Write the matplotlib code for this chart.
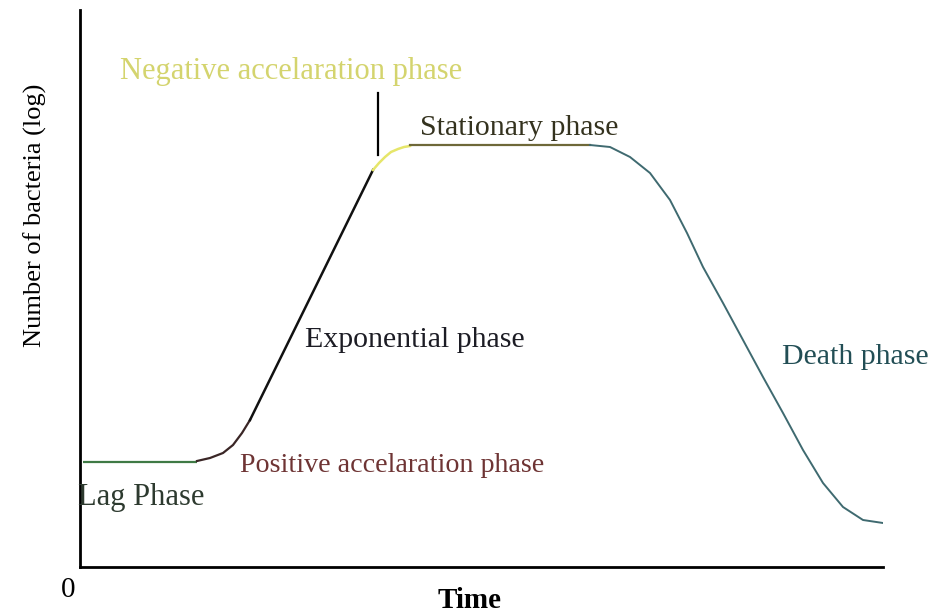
import matplotlib
matplotlib.use("Agg")
import matplotlib.pyplot as plt

plt.rcParams["font.family"] = ["Liberation Serif", "DejaVu Serif"]

# growth curve (time, log number), one list per phase
lag_t = [3, 117]
lag_n = [105, 105]

pos_t = [117, 130, 143, 153, 162, 170]
pos_n = [106, 109, 114, 122, 134, 147]

exp_t = [170, 293]
exp_n = [147, 397]

neg_t = [293, 299, 305, 311, 318, 324, 330]
neg_n = [397, 404, 410, 415, 418, 420, 421]

stat_t = [330, 510]
stat_n = [422, 422]

death_t = [510, 530, 550, 570, 590, 607, 623, 643, 663, 683, 703, 723, 743, 763, 783, 803]
death_n = [422, 420, 410, 394, 367, 334, 300, 264, 227, 190, 154, 117, 84, 60, 47, 44]

fig = plt.figure(figsize=(9.35, 6.14), dpi=100)
ax = fig.add_axes([80 / 935, 47 / 614, 803 / 935, 557 / 614])
ax.set_xlim(0, 803)
ax.set_ylim(0, 557)

ax.plot(lag_t, lag_n, color="#3f7a45", lw=1.6, solid_capstyle="butt")
ax.plot(pos_t, pos_n, color="#3a2626", lw=1.6)
ax.plot(exp_t, exp_n, color="#111111", lw=1.8)
ax.plot(neg_t, neg_n, color="#e6e66a", lw=1.8)
ax.plot(stat_t, stat_n, color="#6e6838", lw=1.6)
ax.plot(death_t, death_n, color="#3f6a70", lw=1.4)

# pointer to the negative acceleration bend
ax.plot([298, 298], [412, 474], color="black", lw=1.6)

for side in ["top", "right"]:
    ax.spines[side].set_visible(False)
for side in ["left", "bottom"]:
    ax.spines[side].set_linewidth(2.0)
ax.set_xticks([])
ax.set_yticks([])

ax.text(-2, 70, "Lag Phase", color="#2d3a2f", fontsize=22, va="center")
ax.text(160, 102, "Positive accelaration phase", color="#6e3434", fontsize=20.2, va="center")
ax.text(225, 227, "Exponential phase", color="#1c1c24", fontsize=21.5, va="center")
ax.text(40, 495, "Negative accelaration phase", color="#d4d46e", fontsize=22, va="center")
ax.text(340, 439, "Stationary phase", color="#34321e", fontsize=21.5, va="center")
ax.text(702, 210, "Death phase", color="#224e55", fontsize=21.5, va="center")

ax.text(-12, -23, "0", fontsize=21, ha="center", va="center", clip_on=False)
fig.text(470 / 935, 1 - 600 / 614, "Time", fontsize=21, fontweight="bold",
         ha="center", va="center")
fig.text(35 / 935, 1 - 215 / 614, "Number of bacteria (log)", fontsize=19,
         rotation=90, ha="center", va="center")

fig.savefig("out.png", dpi=100)
